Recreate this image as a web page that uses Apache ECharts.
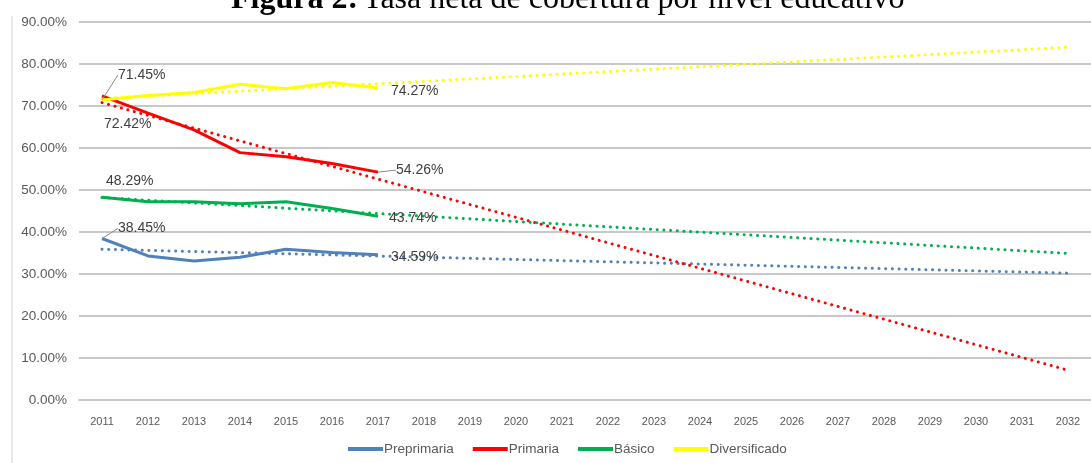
<!doctype html>
<html lang="es">
<head>
    <meta charset="UTF-8">
    <title>Tasa neta de cobertura por nivel educativo</title>
    <script src="https://cdn.jsdelivr.net/npm/echarts@6/dist/echarts.min.js"></script>
    <style>
        html, body { margin: 0; padding: 0; background: #fff; }
        #main { width: 1091px; height: 463px; }
    </style>
</head>
<body>
<div id="main"></div>
<script type="text/javascript">
    // años del eje x
    var years = ['2011', '2012', '2013', '2014', '2015', '2016', '2017', '2018', '2019', '2020', '2021',
        '2022', '2023', '2024', '2025', '2026', '2027', '2028', '2029', '2030', '2031', '2032'];

    // tasas observadas 2011-2017 (%)
    var preprimaria = [38.45, 34.3, 33.1, 34.0, 35.9, 35.1, 34.59];
    var primaria = [72.42, 68.3, 64.3, 58.9, 57.9, 56.3, 54.26];
    var basico = [48.29, 47.2, 47.2, 46.7, 47.2, 45.6, 43.74];
    var diversificado = [71.45, 72.5, 73.2, 75.2, 74.1, 75.6, 74.27];

    // tendencia lineal: valor en 2011 y en 2032 (%)
    var trendPreprimaria = [35.9, 30.2];
    var trendPrimaria = [70.8, 7.1];
    var trendBasico = [48.2, 34.9];
    var trendDiversificado = [71.8, 84.0];

    var names = ['Preprimaria', 'Primaria', 'Básico', 'Diversificado'];
    var colors = ['#4f81bd', '#ff0000', '#00b050', '#ffff00'];

    // desplazamiento de las etiquetas [inicio, fin]: dx, dy, línea guía
    var labelMoves = [
        [[11, -10, true], [8, 2, false]],
        [[-3, 28, false], [13, -2, true]],
        [[-1, -16, false], [6, 2, false]],
        [[11, -25, true], [8, 3, false]]
    ];

    var txt = '#404040';

    function withLabels(values, idx) {
        return values.map(function (v, i) {
            var item = {value: v};
            if (i === 0 || i === values.length - 1) {
                var m = labelMoves[idx][i === 0 ? 0 : 1];
                item.label = {show: true};
                item.labelLine = {show: m[2]};
            }
            return item;
        });
    }

    function trendData(t) {
        var d = years.map(function () { return null; });
        d[0] = t[0];
        d[years.length - 1] = t[1];
        return d;
    }

    var actual = [preprimaria, primaria, basico, diversificado];
    var trends = [trendPreprimaria, trendPrimaria, trendBasico, trendDiversificado];

    var series = [];
    // primero las tendencias (quedan debajo)
    trends.forEach(function (t, i) {
        series.push({
            name: 'Tendencia ' + names[i],
            type: 'line',
            data: trendData(t),
            connectNulls: true,
            symbol: 'none',
            silent: true,
            z: 1,
            lineStyle: {color: colors[i], width: 3, type: [0.1, 6.6], cap: 'round'}
        });
    });
    actual.forEach(function (vals, i) {
        series.push({
            name: names[i],
            type: 'line',
            data: withLabels(vals, i),
            symbol: 'circle',
            symbolSize: 0,
            showSymbol: true,
            z: 3,
            itemStyle: {color: colors[i]},
            lineStyle: {color: colors[i], width: 3},
            label: {
                show: false,
                position: 'right',
                distance: 5,
                color: txt,
                fontFamily: 'Liberation Sans, sans-serif',
                fontSize: 14,
                formatter: function (p) { return p.value.toFixed(2) + '%'; }
            },
            labelLine: {show: false, lineStyle: {color: '#8c8c8c', width: 1}},
            labelLayout: (function (idx) {
                return function (p) {
                    var m = labelMoves[idx][p.dataIndex === 0 ? 0 : 1];
                    return {dx: m[0], dy: m[1]};
                };
            })(i)
        });
    });

    var myChart = echarts.init(document.getElementById('main'), null, {renderer: 'canvas'});
    myChart.setOption({
        backgroundColor: '#ffffff',
        animation: false,
        title: {
            text: '{b|Figura 2:} {n|Tasa neta de cobertura por nivel educativo}',
            left: 226,
            top: -21,
            textStyle: {
                rich: {
                    b: {fontFamily: 'Liberation Serif, serif', fontSize: 32, fontWeight: 'bold', color: '#000'},
                    n: {fontFamily: 'Liberation Serif, serif', fontSize: 32, fontWeight: 'normal', color: '#000'}
                }
            }
        },
        graphic: [{
            type: 'line',
            shape: {x1: 12, y1: 16, x2: 12, y2: 463},
            style: {stroke: '#d0d0d0', lineWidth: 1}
        }],
        legend: {
            data: names,
            bottom: 2,
            left: 343,
            icon: 'rect',
            itemWidth: 35,
            itemHeight: 4,
            itemGap: 19,
            textStyle: {color: '#595959', fontFamily: 'Liberation Sans, sans-serif', fontSize: 13.5, padding: [0, 0, 0, -4]}
        },
        grid: {left: 79, right: -6, top: 22, bottom: 63},
        xAxis: {
            type: 'category',
            data: years,
            boundaryGap: true,
            axisLine: {show: true, lineStyle: {color: '#c8c8c8', width: 2}},
            axisTick: {show: false},
            axisLabel: {color: '#595959', fontFamily: 'Liberation Sans, sans-serif', fontSize: 11, margin: 16}
        },
        yAxis: {
            type: 'value',
            min: 0,
            max: 90,
            interval: 10,
            axisLine: {show: false},
            axisTick: {show: false},
            axisLabel: {
                color: '#595959',
                fontFamily: 'Liberation Sans, sans-serif',
                fontSize: 13.5,
                margin: 12,
                formatter: function (v) { return v.toFixed(2) + '%'; }
            },
            splitLine: {lineStyle: {color: '#c8c8c8', width: 2}}
        },
        series: series
    });
</script>
</body>
</html>
